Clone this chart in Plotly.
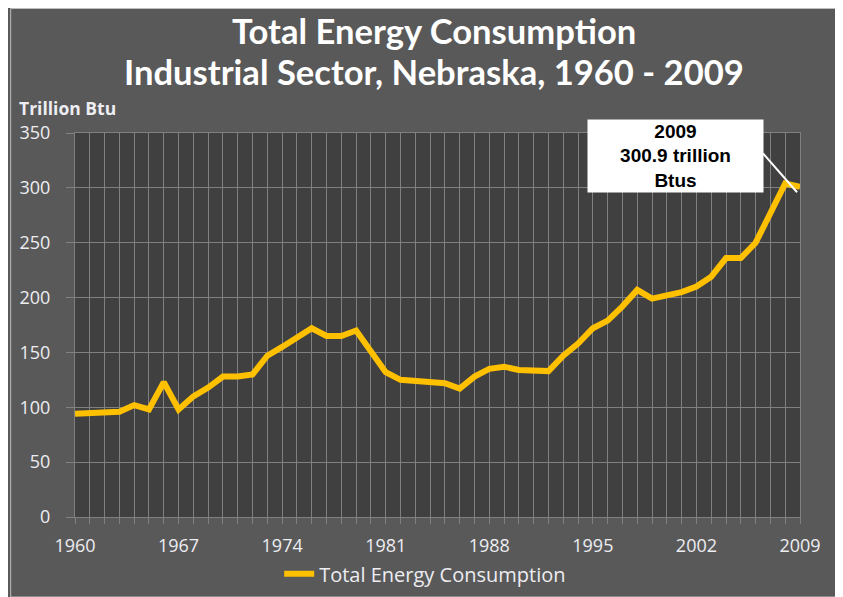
import plotly.graph_objects as go

years = list(range(1960, 2010))
consumption = [
    94, 95, 96, 96, 102, 98, 123, 98, 110, 118,
    128, 128, 130, 147, 155, 163, 172, 165, 165, 170,
    151, 132, 125, 124, 124, 122, 117, 128, 135, 137,
    134, 133, 133, 147, 158, 172, 179, 192, 207, 199,
    202, 205, 210, 219, 236, 236, 250, 277, 304, 300.9,
]
x_tick_years = [1960, 1967, 1974, 1981, 1988, 1995, 2002, 2009]
y_ticks = [0, 50, 100, 150, 200, 250, 300, 350]

title_lines = ["Total Energy Consumption", "Industrial Sector, Nebraska, 1960 - 2009"]
series_name = "Total Energy Consumption"
y_label = "Trillion Btu"
callout_lines = ["2009", "300.9 trillion", "Btus"]

GOLD = "#FFC000"
OUTER = "#595959"
INNER = "#404040"
GRID = "#808080"
TICKC = "#EDEDF2"
FONT = "Open Sans"
TFONT = "Lato"

fig = go.Figure()
fig.add_trace(go.Scatter(
    x=years, y=consumption, mode="lines", name=series_name,
    line=dict(color=GOLD, width=6),
))

fig.update_layout(
    width=829, height=610,
    margin=dict(l=65, r=37, t=125, b=101),
    paper_bgcolor=OUTER,
    plot_bgcolor=INNER,
    showlegend=True,
    legend=dict(
        orientation="h", xanchor="center", x=0.483, yanchor="middle", y=-0.148,
        font=dict(family=FONT, size=20, color=TICKC), bgcolor="rgba(0,0,0,0)",
    ),
)

fig.update_xaxes(
    range=[1960, 2009], tickmode="array", tickvals=x_tick_years,
    ticks="outside", ticklen=6, tickcolor=GRID, tickwidth=1,
    showgrid=True, gridcolor=GRID, gridwidth=1,
    minor=dict(dtick=1, tick0=1960, showgrid=True, gridcolor=GRID, gridwidth=1,
               ticks="outside", ticklen=6, tickcolor=GRID),
    showline=True, linecolor=GRID, linewidth=1, mirror=True,
    zeroline=False, ticklabelstandoff=6,
    tickfont=dict(family=FONT, size=18, color=TICKC),
)
fig.update_yaxes(
    range=[0, 350], tickmode="array", tickvals=y_ticks,
    ticks="outside", ticklen=8, tickcolor=GRID, tickwidth=1,
    showgrid=True, gridcolor=GRID, gridwidth=1,
    showline=True, linecolor=GRID, linewidth=1, mirror=True,
    zeroline=False, ticklabelstandoff=12,
    tickfont=dict(family=FONT, size=18, color=TICKC),
)

# thin light border around the chart area
fig.add_shape(type="rect", xref="paper", yref="paper",
              x0=-64.5 / 727, x1=(828.5 - 65) / 727, y0=(509 - 589) / 384, y1=508.5 / 384,
              fillcolor="rgba(0,0,0,0)", line=dict(color="#BDBDBD", width=1), layer="above")

# Title lines
for txt, yy in zip(title_lines, [1.266, 1.161]):
    fig.add_annotation(text="<b>" + txt + "</b>", xref="paper", yref="paper",
                       x=0.495, y=yy, xanchor="center", yanchor="middle",
                       showarrow=False, font=dict(family=TFONT, size=34.6, color="white"))

# Y-axis label
fig.add_annotation(text="<b>" + y_label + "</b>", xref="paper", yref="paper",
                   x=-0.0795, y=1.064, xanchor="left", yanchor="middle",
                   showarrow=False, font=dict(family=FONT, size=17.5, color=TICKC))

# Callout leader line and box
fig.add_shape(type="line", xref="x", yref="y",
              x0=2006.5, y0=331.5, x1=2008.8, y1=296,
              line=dict(color="white", width=2))
fig.add_annotation(text="<b>" + "<br>".join(callout_lines) + "</b>",
                   xref="paper", yref="paper",
                   x=0.8277, y=0.9399, xanchor="center", yanchor="middle",
                   showarrow=False, bgcolor="white", width=171, height=68,
                   borderpad=2, align="center", valign="middle",
                   font=dict(family="Liberation Sans, Arial", size=19, color="black"))

fig.write_html("out.html")
